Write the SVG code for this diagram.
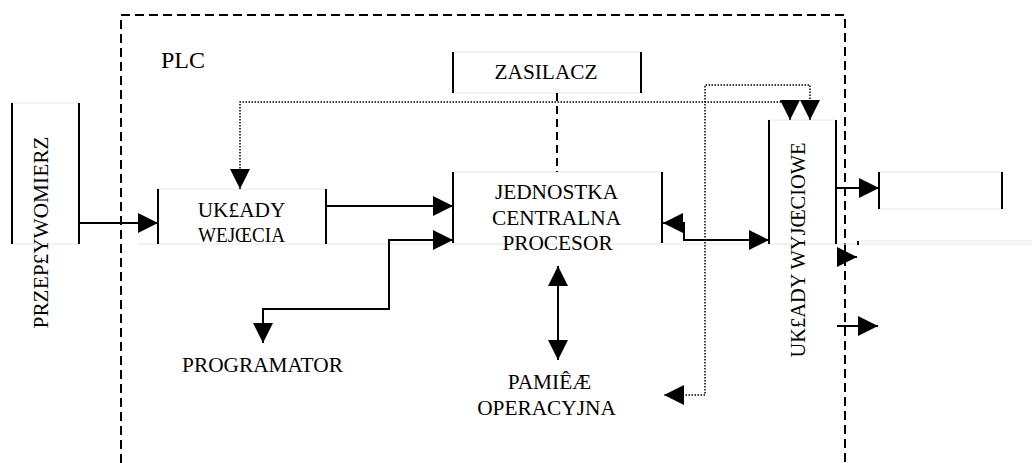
<svg xmlns="http://www.w3.org/2000/svg" width="1032" height="463" viewBox="0 0 1032 463">
<style>
.t{font-family:"Liberation Serif","Times New Roman",serif;font-size:21.33px;fill:#000;text-anchor:middle}
.side{stroke:#000;stroke-width:2;fill:none}
.faint{stroke:#e6e6e6;stroke-width:1;fill:none}
.c{stroke:#000;stroke-width:2;fill:none}
.dot{stroke:#000;stroke-width:1.5;stroke-dasharray:1.5 1.5;fill:none}
.dash{stroke:#000;stroke-width:2;stroke-dasharray:9 5;fill:none}
</style>
<defs>
<marker id="ah" viewBox="0 0 20 20" refX="20" refY="10" markerWidth="20" markerHeight="20" markerUnits="userSpaceOnUse" orient="auto-start-reverse">
<path d="M0,0 L20,10 L0,20 z" fill="#000"/>
</marker>
</defs>
<rect width="1032" height="463" fill="#fff"/>

<g id="plc">
<path class="dash" d="M121,463 L121,15 L845,15 L845,463"/>
<text class="t" x="183" y="68" style="font-size:24px">PLC</text>
</g>

<g id="faint-lines">
<path class="faint" d="M12,244 L79,244 M138,244 L1032,244 M858,241 L1032,241"/>
<path d="M858,241 L858,245" stroke="#000" stroke-width="2"/>
</g>

<g id="przeplywomierz">
<path class="faint" d="M12,103 L79,103"/>
<path class="side" d="M12,103 L12,244 M79,103 L79,244"/>
<text class="t" transform="translate(48,232.5) rotate(-90)">PRZEP£YWOMIERZ</text>
</g>

<g id="uklady-wejscia">
<path class="faint" d="M158,189 L326,189"/>
<path class="side" d="M158,189 L158,244 M326,189 L326,244"/>
<text class="t" x="241.5" y="217">UK£ADY</text>
<text class="t" x="241.5" y="242" textLength="87" lengthAdjust="spacingAndGlyphs">WEJŒCIA</text>
</g>

<g id="zasilacz">
<path class="faint" d="M453,52 L641,52 M453,93 L641,93"/>
<path class="side" d="M453,52 L453,93 M641,52 L641,93"/>
<text class="t" x="546" y="79">ZASILACZ</text>
</g>

<g id="jednostka">
<path class="faint" d="M453,172 L662,172"/>
<path class="side" d="M453,172 L453,243 M662,172 L662,243"/>
<text class="t" x="556.5" y="199">JEDNOSTKA</text>
<text class="t" x="556.5" y="225">CENTRALNA</text>
<text class="t" x="557.5" y="250">PROCESOR</text>
</g>

<g id="uklady-wyjsciowe">
<path class="faint" d="M769,120 L836,120"/>
<path class="side" d="M769,120 L769,244 M836,120 L836,244"/>
<text class="t" transform="translate(805,250) rotate(-90)" textLength="215" lengthAdjust="spacingAndGlyphs">UK£ADY WYJŒCIOWE</text>
</g>

<g id="wyjscie-box">
<path class="faint" d="M879,172 L1002,172 M879,209 L1002,209"/>
<path class="side" d="M879,172 L879,209 M1002,172 L1002,209"/>
</g>

<g id="programator">
<text class="t" x="262.5" y="372">PROGRAMATOR</text>
</g>

<g id="pamiec">
<text class="t" x="549.5" y="389">PAMIÊÆ</text>
<text class="t" x="546.5" y="415">OPERACYJNA</text>
</g>

<g id="connectors">
<path class="c" d="M79,223 L158,223" marker-end="url(#ah)"/>
<path class="c" d="M326,206 L453,206" marker-end="url(#ah)"/>
<path class="c" d="M263,343 L263,309 L389,309 L389,240 L453,240" marker-start="url(#ah)" marker-end="url(#ah)"/>
<path class="c" d="M558,266 L558,360" marker-start="url(#ah)" marker-end="url(#ah)"/>
<path class="c" d="M663,223 L684,223 L684,240 L769,240" marker-start="url(#ah)" marker-end="url(#ah)"/>
<path class="c" d="M837,188 L879,188" marker-end="url(#ah)"/>
<path class="c" d="M837,257 L857,257" marker-end="url(#ah)"/>
<path class="c" d="M837,326 L878,326" marker-end="url(#ah)"/>
<path class="dash" d="M557,93 L557,172" style="stroke-dasharray:8 5"/>
<path class="dot" d="M790,120 L790,102 L240,102 L240,189" marker-start="url(#ah)" marker-end="url(#ah)"/>
<path class="dot" d="M810,120 L810,85 L705,85 L705,395 L664,395" marker-start="url(#ah)" marker-end="url(#ah)"/>
</g>
</svg>
